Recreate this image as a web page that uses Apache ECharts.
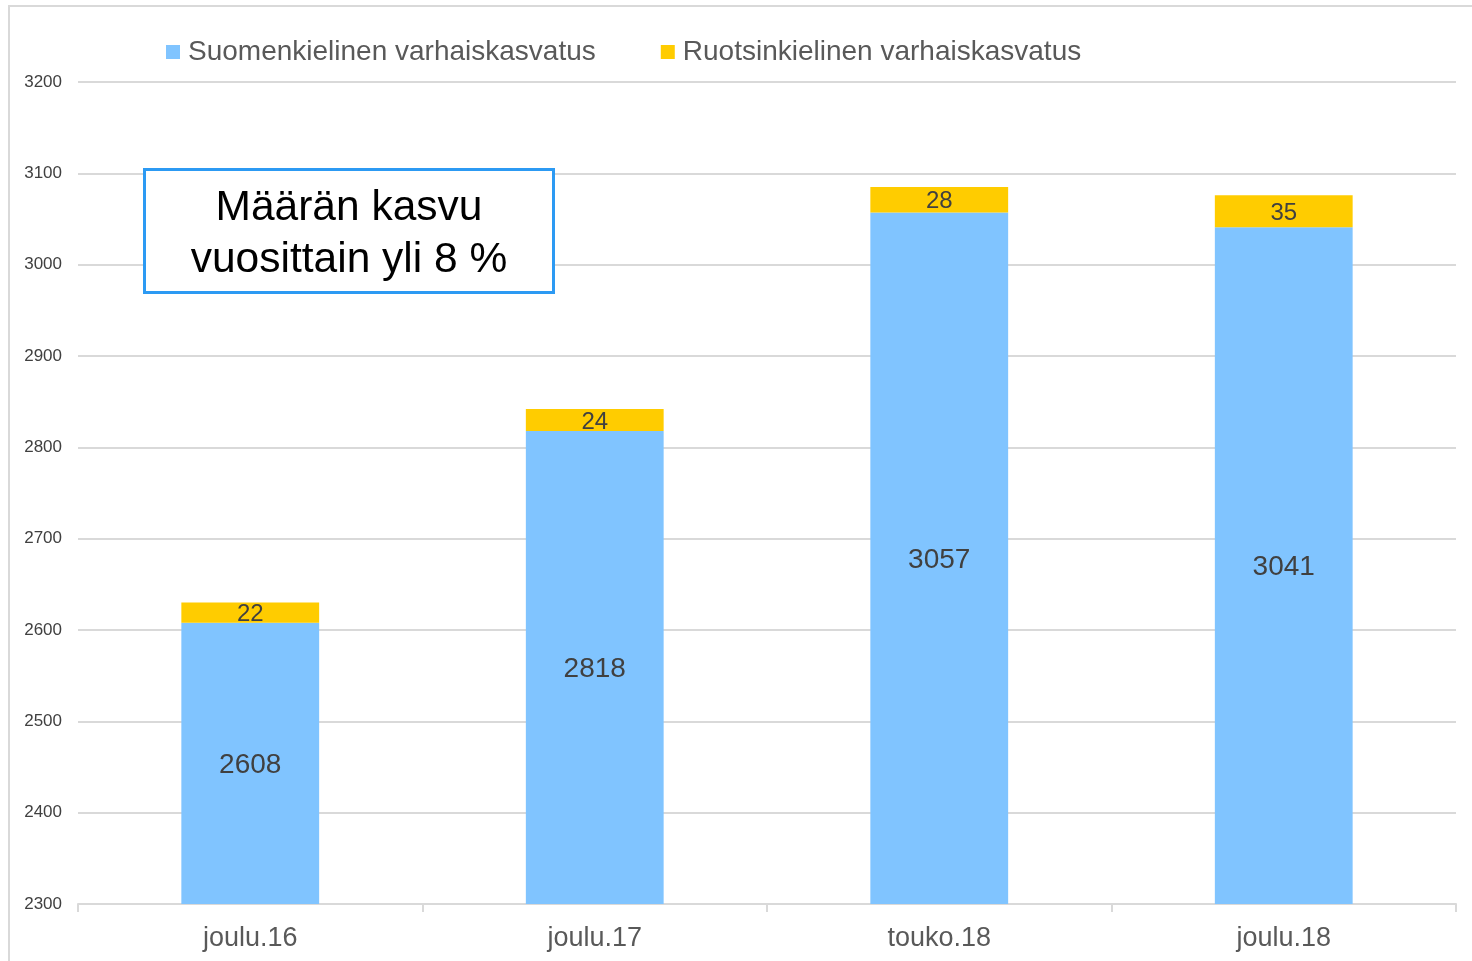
<!DOCTYPE html>
<html><head><meta charset="utf-8">
<script src="https://cdn.jsdelivr.net/npm/echarts@6/dist/echarts.min.js"></script>
<style>html,body{margin:0;padding:0;background:#fff;}#c{width:1472px;height:961px;}</style>
</head><body><div id="c"></div>
<script>
const categories = ['joulu.16', 'joulu.17', 'touko.18', 'joulu.18'];
const finnishValues = [2608, 2818, 3057, 3041];
const swedishValues = [22, 24, 28, 35];
const seriesNames = ['Suomenkielinen varhaiskasvatus', 'Ruotsinkielinen varhaiskasvatus'];
const annotationText = 'Määrän kasvu\nvuosittain yli 8 %';

const chart = echarts.init(document.getElementById('c'), null, {renderer: 'canvas'});
const FONT = '"Liberation Sans", Arial, sans-serif';
chart.setOption({
  animation: false,
  backgroundColor: '#fff',
  textStyle: {fontFamily: FONT},
  legend: {
    top: 38, left: 166, padding: 0,
    itemWidth: 14, itemHeight: 14, itemGap: 65,
    icon: 'rect',
    textStyle: {fontSize: 28, color: '#595959', fontFamily: FONT, padding: [0,0,0,3]},
    data: seriesNames
  },
  grid: {left: 78, right: 16, top: 82, bottom: 57, containLabel: false},
  xAxis: {
    type: 'category', data: categories,
    axisLine: {lineStyle: {color: '#d9d9d9', width: 2}},
    axisTick: {show: true, length: 8, lineStyle: {color: '#d9d9d9', width: 2}},
    axisLabel: {fontSize: 27, color: '#595959', margin: 21, fontFamily: FONT}
  },
  yAxis: {
    type: 'value', min: 2300, max: 3200, interval: 100,
    axisLine: {show: false}, axisTick: {show: false},
    splitLine: {lineStyle: {color: '#d9d9d9', width: 2}},
    axisLabel: {fontSize: 17, color: '#404040', margin: 16, fontFamily: FONT, formatter: v => String(v)}
  },
  series: [
    {
      name: seriesNames[0], type: 'bar', stack: 's', data: finnishValues,
      barWidth: '40%',
      itemStyle: {color: '#80C4FF'},
      label: {show: true, position: 'inside', offset: [0, 2], fontSize: 28, color: '#404040', fontFamily: FONT}
    },
    {
      name: seriesNames[1], type: 'bar', stack: 's', data: swedishValues,
      barWidth: '40%',
      itemStyle: {color: '#FFCC00'},
      label: {show: true, position: 'inside', offset: [0, 2], fontSize: 24, color: '#404040', fontFamily: FONT}
    }
  ],
  graphic: [
    {type: 'rect', silent: true, z: -1, shape: {x: 9, y: 6, width: 1500, height: 1000},
     style: {fill: 'none', stroke: '#d9d9d9', lineWidth: 2}},
    {type: 'rect', z: 10, shape: {x: 144.5, y: 169.5, width: 409, height: 123},
     style: {fill: '#fff', stroke: '#2C9AF3', lineWidth: 3}},
    {type: 'text', z: 11, x: 349, y: 234,
     style: {text: annotationText, fill: '#000', font: '42.5px ' + FONT, align: 'center', verticalAlign: 'middle', lineHeight: 52}}
  ]
});
</script></body></html>
